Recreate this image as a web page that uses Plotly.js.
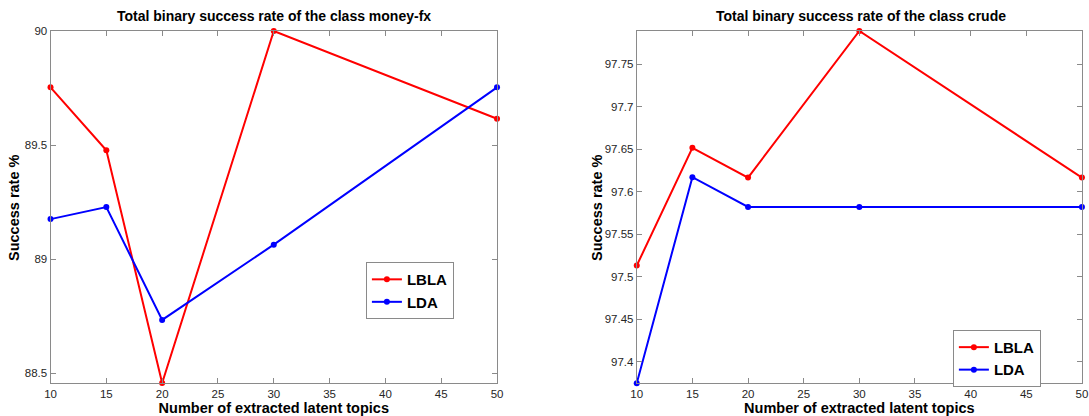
<!DOCTYPE html>
<html>
<head>
<meta charset="utf-8">
<script src="https://cdn.plot.ly/plotly-3.0.1.min.js"></script>
<style>html,body{margin:0;padding:0;background:#fff}#chart{width:1089px;height:416px}</style>
</head>
<body>
<div id="chart"></div>
<script>
// Data
const topics = [10, 15, 20, 30, 50];
const moneyLBLA = [89.753, 89.477, 88.456, 90.0, 89.615];
const moneyLDA = [89.175, 89.228, 88.733, 89.063, 89.753];
const crudeLBLA = [97.513, 97.6516, 97.6165, 97.789, 97.6165];
const crudeLDA = [97.3745, 97.617, 97.582, 97.582, 97.582];
const xTicks = [10, 15, 20, 25, 30, 35, 40, 45, 50];
const moneyTicks = [88.5, 89, 89.5, 90];
const moneyTickText = ['88.5', '89', '89.5', '90'];
const crudeTicks = [97.4, 97.45, 97.5, 97.55, 97.6, 97.65, 97.7, 97.75];
const crudeTickText = ['97.4', '97.45', '97.5', '97.55', '97.6', '97.65', '97.7', '97.75'];
const titles = ['Total binary success rate of the class money-fx', 'Total binary success rate of the class crude'];
const yTitle = 'Success rate %';

const RED = '#ff0000', BLUE = '#0000ff';
function tr(x, y, name, color, xa, ya, leg) {
  return {x: x, y: y, name: name, type: 'scatter', mode: 'lines+markers',
    line: {color: color, width: 2}, marker: {color: color, size: 6},
    xaxis: xa, yaxis: ya, legend: leg, cliponaxis: false};
}
const data = [
  tr(topics, moneyLBLA, 'LBLA', RED, 'x', 'y', 'legend'),
  tr(topics, moneyLDA, 'LDA', BLUE, 'x', 'y', 'legend'),
  tr(topics, crudeLBLA, 'LBLA', RED, 'x2', 'y2', 'legend2'),
  tr(topics, crudeLDA, 'LDA', BLUE, 'x2', 'y2', 'legend2')
];
const FAM = 'Arial, Liberation Sans, sans-serif';
const tickFont = {family: FAM, size: 11.5, color: '#262626'};
const axTitleFont = {family: FAM, size: 14.5, color: '#000', weight: 'bold'};
function xax(domain, anchor) {
  return {domain: domain, anchor: anchor, range: [10, 50], tickvals: xTicks, ticks: 'inside', ticklen: 5,
    tickcolor: '#8a8a8a', showline: true, linecolor: '#8a8a8a', linewidth: 1, mirror: 'ticks',
    showgrid: false, zeroline: false, tickfont: tickFont, ticklabeloverflow: 'allow',
    title: {text: 'Number of extracted latent topics', font: axTitleFont, standoff: 2}};
}
function yax(domain, anchor, range, vals, text) {
  return {domain: domain, anchor: anchor, range: range, tickvals: vals, ticktext: text, ticks: 'inside', ticklen: 5,
    tickcolor: '#8a8a8a', showline: true, linecolor: '#8a8a8a', linewidth: 1, mirror: 'ticks',
    showgrid: false, zeroline: false, tickfont: tickFont};
}
const legFont = {family: FAM, size: 15, color: '#000', weight: 'bold'};
function ann(text, x, y, size, angle) {
  return {text: text, xref: 'paper', yref: 'paper', x: x, y: y, xanchor: 'center', yanchor: 'middle',
    showarrow: false, textangle: angle, font: {family: FAM, size: size, color: '#000', weight: 'bold'}};
}
const layout = {
  width: 1089, height: 416, margin: {l: 0, r: 0, t: 0, b: 0},
  paper_bgcolor: '#fff', plot_bgcolor: '#fff', showlegend: true,
  xaxis: xax([0.0464, 0.4564], 'y'),
  yaxis: yax([0.0786, 0.9255], 'x', [88.455, 90], moneyTicks, moneyTickText),
  xaxis2: xax([0.5847, 0.9935], 'y2'),
  yaxis2: yax([0.0786, 0.9255], 'x2', [97.3745, 97.789], crudeTicks, crudeTickText),
  legend: {x: 0.336, y: 0.37, xanchor: 'left', yanchor: 'top', bgcolor: '#fff', bordercolor: '#8a8a8a',
    borderwidth: 1, font: legFont, tracegroupgap: 0, itemwidth: 30},
  legend2: {x: 0.875, y: 0.207, xanchor: 'left', yanchor: 'top', bgcolor: '#fff', bordercolor: '#8a8a8a',
    borderwidth: 1, font: legFont, tracegroupgap: 0, itemwidth: 30},
  annotations: [
    ann(titles[0], 0.2514, 1 - 16/416, 14, 0),
    ann(titles[1], 0.7903, 1 - 16/416, 14, 0),
    ann(yTitle, 14/1089, 1 - 208/416, 14.5, -90),
    ann(yTitle, 597/1089, 1 - 208/416, 14.5, -90)
  ]
};
Plotly.newPlot('chart', data, layout, {displayModeBar: false, staticPlot: true});
</script>
</body>
</html>
